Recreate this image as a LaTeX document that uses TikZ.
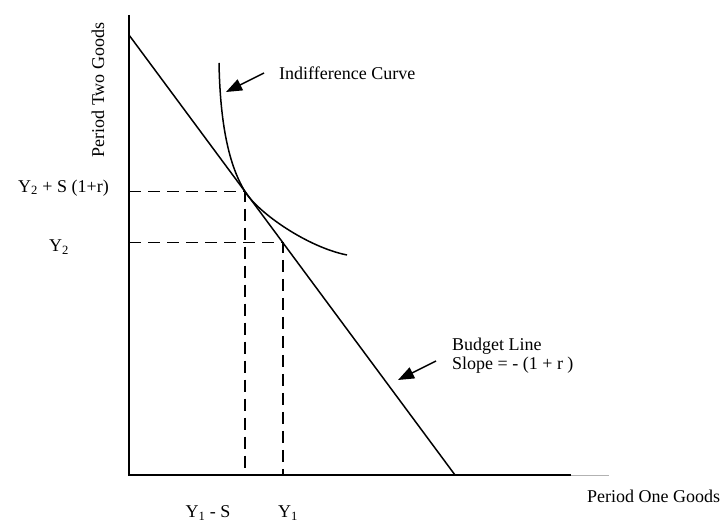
\documentclass[tikz,border=0pt]{standalone}
\usepackage{fontspec}
\setmainfont{Liberation Serif}
\usetikzlibrary{arrows.meta, calc}

\begin{document}
\begin{tikzpicture}[
    x=1pt, y=1pt,
    every node/.style={font=\fontsize{18}{19}\selectfont, inner sep=0pt},
    axis/.style={line width=1.5pt},
    guide/.style={line width=1.5pt, dash pattern=on 12pt off 7pt},
    ptr/.style={-{Triangle[length=16pt, width=12pt]}, line width=1.5pt},
  ]
    \useasboundingbox (-129,-49) rectangle (596,475);

    % axes
    \coordinate (O) at (0,0);
    \coordinate (ytop) at (0,460);
    \coordinate (xend) at (442,0);
    \coordinate (xfade) at (480,0);
    \draw[axis] (ytop) -- (O) -- (xend);
    \draw[gray!60, line width=0.8pt] (xend) -- (xfade);

    % budget line, tangency T and endowment E on it
    \coordinate (A) at (0,440);
    \coordinate (B) at (326,0);
    \draw[axis] (A) -- (B);
    \coordinate (T) at ($(A)!0.356!(B)$);
    \coordinate (E) at ($(A)!0.472!(B)$);

    % indifference curve
    \coordinate (ic0) at (90,412);
    \coordinate (ic1) at (218,220);
    \draw[axis] (ic0) .. controls +(1,-52) and +(-18.5,30) .. (T)
                      .. controls +(13,-21) and +(-40,8) .. (ic1);

    % dashed guides
    \draw[guide] (T -| O) -- (T) -- (T |- O);
    \draw[guide] (E -| O) -- (E) -- (E |- O);

    % labels on the axes
    \node[rotate=90] (ylab) at (-31,385) {Period Two Goods};
    \node[anchor=west] (xlab) at (458,-21) {Period One Goods};
    \node[anchor=west] (y2s) at (-111,287) {Y\textsubscript{2} + S (1+r)};
    \node[anchor=west] (y2) at (-80,228) {Y\textsubscript{2}};
    \node (y1s) at (79,-38) {Y\textsubscript{1} - S};
    \node (y1) at (159,-38) {Y\textsubscript{1}};

    % pointers
    \node[anchor=west] (iclab) at (150,402) {Indifference Curve};
    \coordinate (ictip) at (97,383);
    \draw[ptr] ([xshift=-15pt]iclab.west) -- (ictip);

    \node[anchor=west, align=left] (blab) at (323,119)
         {Budget Line\\Slope = - (1 + r )};
    \coordinate (btail) at (307,114);
    \coordinate (btip) at (269,95);
    \draw[ptr] (btail) -- (btip);
  \end{tikzpicture}
\end{document}
